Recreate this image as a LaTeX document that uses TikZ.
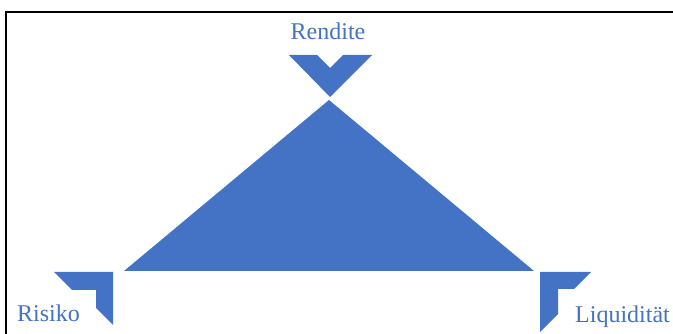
\documentclass[tikz,border=0pt]{standalone}
\usepackage{fontspec}
\setmainfont{Liberation Serif}
\usetikzlibrary{
  positioning
}
\definecolor{trianglecolor}{RGB}{68,114,196}
\definecolor{framecolor}{RGB}{0,0,0}
\tikzset{
  corner/.style={
    fill=trianglecolor,
    draw=none
  },
  label/.style={
    text=trianglecolor,
    font=\fontsize{24}{24}\selectfont,
    inner sep=0pt
  },
  frame/.style={
    draw=framecolor,
    line width=1.6pt
  }
}

\begin{document}
\begin{tikzpicture}[x=1pt, y=-1pt]

  \useasboundingbox (0,0) rectangle (673,334);

  % Frame
  \draw[frame] (6,334) -- (6,12) -- (673,12);

  % Triangle
  \fill[corner] (124,271) -- (329,100) -- (534,271) -- cycle;

  % Top chevron
  \fill[corner] (289,55) -- (317,55) -- (330,68) -- (343,55) -- (372,55)
    -- (330,97) -- cycle;
  \node[label, anchor=base] (rendite) at (328,40) {Rendite};

  % Left corner
  \fill[corner] (54,272) -- (113,272) -- (113,325) -- (96,308) -- (96,290)
    -- (72,290) -- cycle;
  \node[label, anchor=base west] (risiko) at (17,322) {Risiko};

  % Right corner
  \fill[corner] (540,272) -- (591,272) -- (574,289) -- (558,289) -- (558,314)
    -- (540,332) -- cycle;
  \node[label, anchor=base west] (liquiditaet) at (575,323) {Liquidität};

\end{tikzpicture}
\end{document}
